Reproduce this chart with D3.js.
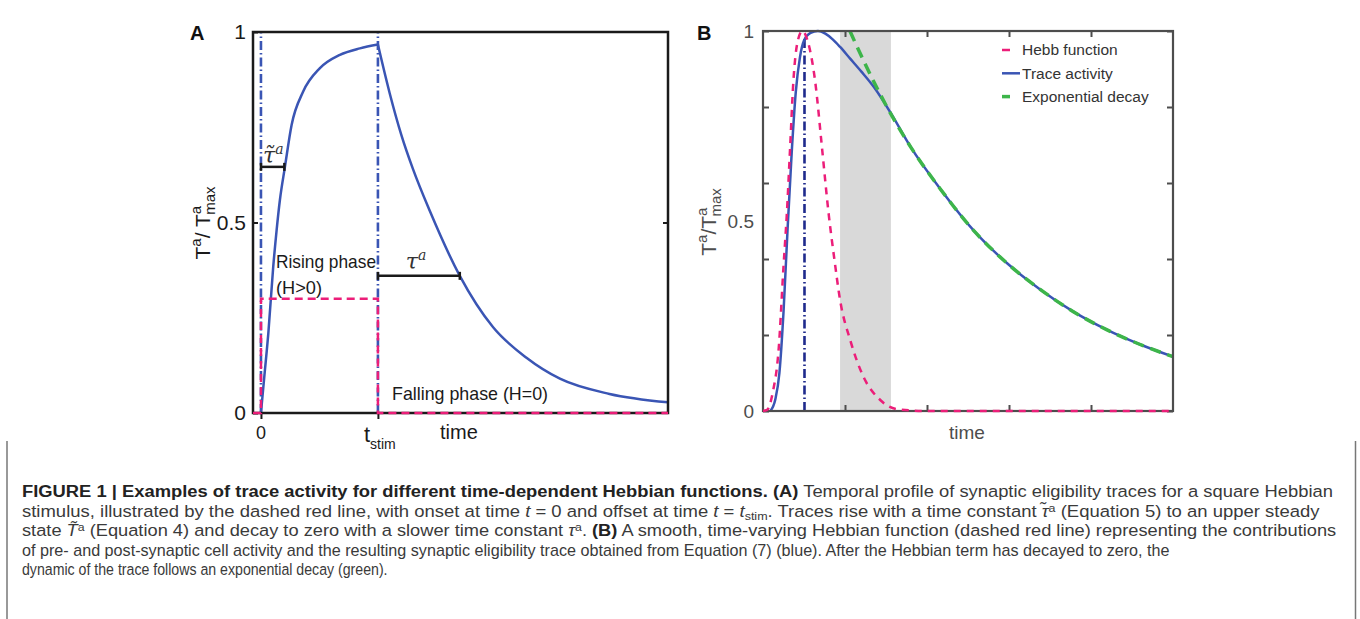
<!DOCTYPE html>
<html>
<head>
<meta charset="utf-8">
<script src="https://cdn.jsdelivr.net/npm/d3@7"></script>
<style>
  body { margin: 0; background: #fff; }
  svg { display: block; }
</style>
</head>
<body>
<svg id="fig" width="1360" height="619"></svg>
<script>
/* ----------  DATA  ---------- */
// panel A : square Hebbian stimulus, trace rises then decays (t_stim = 1)
const riseT = [0, 0.03, 0.063, 0.105, 0.134, 0.162, 0.205, 0.262, 0.36, 0.504, 0.675, 0.846, 1.0]
const riseV = [0, 0.1, 0.209, 0.384, 0.48, 0.559, 0.646, 0.756, 0.843, 0.905, 0.94, 0.957, 0.967]
const fallT = [1.0, 1.1, 1.2, 1.3, 1.444, 1.7, 1.985, 2.27, 2.556, 2.98, 3.48]
const fallV = [0.967, 0.84, 0.73, 0.64, 0.53, 0.36, 0.225, 0.145, 0.09, 0.05, 0.028]
const hebbAT = [-0.068, 0, 0, 1, 1, 3.48]
const hebbAV = [0, 0, 0.3, 0.3, 0, 0]
const markerStart = [0, 1]       // tilde-tau, tau
const markerEnd = [0.2, 1.7]
const markerLevel = [0.646, 0.36]
const stimLines = [0, 1]
const yTicksA = [0, 0.5, 1]

// panel B : smooth Hebbian function, trace and exponential fit
const hebbBT = [0, 0.05, 0.12, 0.19, 0.25, 0.29, 0.33, 0.37, 0.42, 0.48, 0.55, 0.637, 0.718, 0.8, 0.87, 0.94, 1.063, 1.225, 1.43, 1.63, 2.0, 3.0, 4.0, 5.0]
const hebbBV = [0, 0.003, 0.05, 0.16, 0.38, 0.516, 0.69, 0.866, 0.97, 1.0, 0.97, 0.866, 0.696, 0.52, 0.4, 0.292, 0.187, 0.09, 0.029, 0.005, 0, 0, 0, 0]
const traceT = [0.09, 0.15, 0.2, 0.25, 0.3, 0.35, 0.4, 0.45, 0.5, 0.58, 0.67, 0.76, 0.85, 0.94, 1.06, 1.2, 1.35, 1.55, 1.8, 2.16, 2.59, 2.97, 3.38, 3.78, 4.19, 4.6, 5.0]
const traceV = [0, 0.03, 0.1, 0.26, 0.48, 0.68, 0.84, 0.93, 0.975, 0.995, 1.0, 0.993, 0.978, 0.958, 0.928, 0.893, 0.853, 0.787, 0.695, 0.585, 0.47, 0.39, 0.32, 0.262, 0.214, 0.175, 0.143]
const expT = [1.06, 1.2, 1.35, 1.55, 1.8, 2.16, 2.59, 2.97, 3.38, 3.78, 4.19, 4.6, 5.0]
const expV = [1.0, 0.934, 0.867, 0.785, 0.695, 0.585, 0.47, 0.39, 0.32, 0.262, 0.214, 0.175, 0.143]
const shadeBand = [0.94, 1.56]
const peakLine = [0.506, 0.98]
const xTicksB = [1, 2, 3, 4]
const yTicksB = [0, 0.2, 0.4, 0.6, 0.8, 1]
const yLabelsB = [0, 0.5, 1]
const legendLabels = ['Hebb function', 'Trace activity', 'Exponential decay']

/* ----------  STYLE  ---------- */
const PINK = '#ec1e79'
const BLUE = '#3a55b4'
const NAVY = '#1f2a8c'
const GREEN = '#3db54a'
const SANS = '"Liberation Sans", Arial, sans-serif'
const ARIAL = '"Liberation Sans", Arial, sans-serif'
const SERIF = '"DejaVu Serif", "Liberation Serif", serif'

const svg = d3.select('#fig')
svg.append('rect').attr('width', 1360).attr('height', 619).attr('fill', '#fff')

const zip = (a, b) => a.map((v, i) => [v, b[i]])

/* ==========  PANEL A  ========== */
const xA = d3.scaleLinear().domain([-0.068, 3.48]).range([253, 668])
const yA = d3.scaleLinear().domain([0, 1]).range([413, 32])
const gA = svg.append('g')
const lineA = d3.line().x(d => xA(d[0])).y(d => yA(d[1]))

// blue dash-dot markers for onset / offset
gA.selectAll('.stim')
  .data(stimLines)
  .enter().append('line')
  .attr('x1', d => xA(d)).attr('x2', d => xA(d))
  .attr('y1', yA(0)).attr('y2', yA(1))
  .attr('stroke', BLUE)
  .attr('stroke-width', 2.6)
  .attr('stroke-dasharray', '9,3,1.5,3')

// trace
gA.append('path')
  .datum(zip(riseT, riseV))
  .attr('d', lineA.curve(d3.curveMonotoneX))
  .attr('fill', 'none').attr('stroke', BLUE).attr('stroke-width', 2.5)
gA.append('path')
  .datum(zip(fallT, fallV))
  .attr('d', lineA.curve(d3.curveMonotoneX))
  .attr('fill', 'none').attr('stroke', BLUE).attr('stroke-width', 2.5)

// frame + axis ticks
gA.append('rect')
  .attr('x', xA.range()[0]).attr('y', yA(1))
  .attr('width', xA.range()[1] - xA.range()[0]).attr('height', yA(0) - yA(1))
  .attr('fill', 'none').attr('stroke', '#1a1a1a').attr('stroke-width', 2.5)

gA.append('g')
  .attr('transform', `translate(${xA.range()[0]},0)`)
  .call(d3.axisLeft(yA).tickValues(yTicksA).tickSize(-5).tickPadding(7).tickFormat(d3.format('')))
  .call(g => g.select('.domain').remove())
  .call(g => g.selectAll('line').attr('stroke', '#1a1a1a').attr('stroke-width', 2))
  .call(g => g.selectAll('text').attr('fill', '#1a1a1a').style('font-family', SANS).style('font-size', '21px'))
gA.append('g')
  .attr('transform', `translate(${xA.range()[1]},0)`)
  .call(d3.axisRight(yA).tickValues([0.5]).tickSize(-5).tickFormat(''))
  .call(g => g.select('.domain').remove())
  .call(g => g.selectAll('line').attr('stroke', '#1a1a1a').attr('stroke-width', 2))
gA.append('g')
  .attr('transform', `translate(0,${yA(0)})`)
  .call(d3.axisBottom(xA).tickValues(stimLines).tickSize(6).tickFormat(''))
  .call(g => g.select('.domain').remove())
  .call(g => g.selectAll('line').attr('stroke', '#1a1a1a').attr('stroke-width', 2))

// square Hebbian stimulus
gA.append('path')
  .datum(zip(hebbAT, hebbAV))
  .attr('d', lineA.curve(d3.curveLinear))
  .attr('fill', 'none').attr('stroke', PINK).attr('stroke-width', 2.5)
  .attr('stroke-dasharray', '8,5')

// time constant markers
const mk = gA.selectAll('.mk')
  .data(markerStart.map((s, i) => ({ s, e: markerEnd[i], v: markerLevel[i] })))
  .enter().append('g')
mk.append('line')
  .attr('x1', d => xA(d.s)).attr('x2', d => xA(d.e))
  .attr('y1', d => yA(d.v)).attr('y2', d => yA(d.v))
  .attr('stroke', '#1a1a1a').attr('stroke-width', 2.5)
mk.each(function (d) {
  [d.s, d.e].forEach(t => d3.select(this).append('line')
    .attr('x1', xA(t)).attr('x2', xA(t))
    .attr('y1', yA(d.v) - 4).attr('y2', yA(d.v) + 4)
    .attr('stroke', '#1a1a1a').attr('stroke-width', 2.5))
})

const tauLabel = (x, y, tilde) => {
  const t = gA.append('text').attr('x', x).attr('y', y)
    .style('font-family', SERIF).style('font-style', 'italic').style('font-size', '22px')
    .attr('fill', '#333')
  t.append('tspan').text(tilde ? 'τ̃' : 'τ')
  t.append('tspan').attr('dy', -9).style('font-size', '14px').text('a')
}
tauLabel(xA(0) + 2, yA(markerLevel[0]) - 4, true)
tauLabel((xA(markerStart[1]) + xA(markerEnd[1])) / 2 - 13, yA(markerLevel[1]) - 7, false)

// phase labels
const txtA = (x, y, s) => gA.append('text').attr('x', x).attr('y', y)
  .style('font-family', SANS).style('font-size', '19px').attr('fill', '#1a1a1a').text(s)
txtA(276, 268, 'Rising phase').attr('textLength', 100).attr('lengthAdjust', 'spacingAndGlyphs')
txtA(276, 294, '(H>0)').attr('textLength', 46).attr('lengthAdjust', 'spacingAndGlyphs')
txtA(392, 400, 'Falling phase (H=0)').attr('textLength', 156).attr('lengthAdjust', 'spacingAndGlyphs')

// x tick labels
gA.append('text').attr('x', xA(0)).attr('y', 439).attr('text-anchor', 'middle')
  .style('font-family', SANS).style('font-size', '18px').attr('fill', '#1a1a1a').text('0')
const ts = gA.append('text').attr('x', xA(1) - 14).attr('y', 442)
  .style('font-family', SANS).style('font-size', '22px').attr('fill', '#1a1a1a')
ts.append('tspan').text('t')
ts.append('tspan').attr('dy', 7).style('font-size', '14px').text('stim')
txtA(440, 439, 'time').style('font-size', '20px')

// y label
const ylab = (g, x, y, gap, col) => {
  const t = g.append('text')
    .attr('transform', `translate(${x},${y}) rotate(-90)`)
    .attr('text-anchor', 'middle')
    .style('font-family', SANS).style('font-size', '21px').attr('fill', col)
  t.append('tspan').text('T')
  t.append('tspan').attr('dy', -9).style('font-size', '15px').text('a')
  t.append('tspan').attr('dy', 9).text(gap ? '/ T' : '/T')
  t.append('tspan').attr('dy', -9).style('font-size', '15px').text('a')
  t.append('tspan').attr('dx', -9).attr('dy', 14).style('font-size', '15px').text('max')
}
ylab(gA, 210, 223, true, '#1a1a1a')

gA.append('text').attr('x', 190).attr('y', 40)
  .style('font-family', ARIAL).style('font-weight', 'bold').style('font-size', '20px')
  .attr('fill', '#111').text('A')

/* ==========  PANEL B  ========== */
const xB = d3.scaleLinear().domain([0, 5]).range([763, 1173])
const yB = d3.scaleLinear().domain([0, 1]).range([411, 31])
const gB = svg.append('g')
const lineB = d3.line().x(d => xB(d[0])).y(d => yB(d[1])).curve(d3.curveMonotoneX)
const GREY = '#4d4d4d'

gB.append('rect')
  .attr('x', xB(shadeBand[0])).attr('y', yB(1))
  .attr('width', xB(shadeBand[1]) - xB(shadeBand[0])).attr('height', yB(0) - yB(1))
  .attr('fill', '#d9d9d9')

gB.append('line')
  .attr('x1', xB(peakLine[0])).attr('x2', xB(peakLine[0]))
  .attr('y1', yB(0)).attr('y2', yB(peakLine[1]))
  .attr('stroke', NAVY).attr('stroke-width', 2.6)
  .attr('stroke-dasharray', '9,3,1.5,3')

gB.append('path').datum(zip(traceT, traceV)).attr('d', lineB)
  .attr('fill', 'none').attr('stroke', BLUE).attr('stroke-width', 2.5)
gB.append('path').datum(zip(expT, expV)).attr('d', lineB)
  .attr('fill', 'none').attr('stroke', GREEN).attr('stroke-width', 3.5)
  .attr('stroke-dasharray', '11,7')

// frame and ticks
gB.append('rect')
  .attr('x', xB(0)).attr('y', yB(1))
  .attr('width', xB(5) - xB(0)).attr('height', yB(0) - yB(1))
  .attr('fill', 'none').attr('stroke', GREY).attr('stroke-width', 2.2)

const tickStyle = g => g.call(g => g.select('.domain').remove())
  .call(g => g.selectAll('line').attr('stroke', GREY).attr('stroke-width', 2))
gB.append('g').attr('transform', `translate(${xB(0)},0)`)
  .call(d3.axisLeft(yB).tickValues(yTicksB).tickSize(-6).tickFormat('')).call(tickStyle)
gB.append('g').attr('transform', `translate(${xB(5)},0)`)
  .call(d3.axisRight(yB).tickValues(yTicksB).tickSize(-6).tickFormat('')).call(tickStyle)
gB.append('g').attr('transform', `translate(0,${yB(0)})`)
  .call(d3.axisBottom(xB).tickValues(xTicksB).tickSize(-6).tickFormat('')).call(tickStyle)
gB.append('g').attr('transform', `translate(0,${yB(1)})`)
  .call(d3.axisTop(xB).tickValues(xTicksB).tickSize(-6).tickFormat('')).call(tickStyle)
gB.append('g').attr('transform', `translate(${xB(0)},0)`)
  .call(d3.axisLeft(yB).tickValues(yLabelsB).tickSize(0).tickPadding(9).tickFormat(d3.format('')))
  .call(g => g.select('.domain').remove())
  .call(g => g.selectAll('text').attr('fill', GREY).style('font-family', ARIAL).style('font-size', '19px'))

// Hebb function on top
gB.append('path').datum(zip(hebbBT, hebbBV)).attr('d', lineB)
  .attr('fill', 'none').attr('stroke', PINK).attr('stroke-width', 2.5)
  .attr('stroke-dasharray', '7,6')

// legend
const legCol = [PINK, BLUE, GREEN]
const legLen = [8, 18, 8]
const leg = gB.selectAll('.leg').data(legendLabels).enter().append('g')
  .attr('transform', (d, i) => `translate(1002,${50 + i * 23.3})`)
leg.append('line')
  .attr('x1', 0).attr('x2', (d, i) => legLen[i])
  .attr('stroke', (d, i) => legCol[i]).attr('stroke-width', (d, i) => i === 2 ? 3.5 : 2.5)
leg.append('text').attr('x', 20).attr('dy', '0.35em')
  .style('font-family', ARIAL).style('font-size', '15.5px').attr('fill', '#333')
  .text(d => d)

gB.append('text').attr('x', 967).attr('y', 439).attr('text-anchor', 'middle')
  .style('font-family', ARIAL).style('font-size', '19px').attr('fill', GREY).text('time')
ylab(gB, 716, 222, false, GREY)

gB.append('text').attr('x', 697).attr('y', 40)
  .style('font-family', ARIAL).style('font-weight', 'bold').style('font-size', '20px')
  .attr('fill', '#111').text('B')

/* ==========  CAPTION  ========== */
svg.append('line').attr('x1', 7).attr('x2', 7).attr('y1', 441).attr('y2', 619)
  .attr('stroke', '#777').attr('stroke-width', 1.5)
svg.append('line').attr('x1', 1355.5).attr('x2', 1355.5).attr('y1', 441).attr('y2', 619)
  .attr('stroke', '#777').attr('stroke-width', 1.5)

const caption = [
  [['b', 'FIGURE 1 | Examples of trace activity for different time-dependent Hebbian functions. (A)'],
   ['n', ' Temporal profile of synaptic eligibility traces for a square Hebbian']],
  [['n', 'stimulus, illustrated by the dashed red line, with onset at time '], ['i', 't'], ['n', ' = 0 and offset at time '],
   ['i', 't'], ['n', ' = '], ['i', 't'], ['sub', 'stim'], ['n', '. Traces rise with a time constant '], ['i', 'τ̃'],
   ['sup', 'a'], ['n', ' (Equation 5) to an upper steady']],
  [['n', 'state '], ['i', 'T̃'], ['sup', 'a'], ['n', ' (Equation 4) and decay to zero with a slower time constant '], ['i', 'τ'],
   ['sup', 'a'], ['n', '. '], ['b', '(B)'],
   ['n', ' A smooth, time-varying Hebbian function (dashed red line) representing the contributions']],
  [['n', 'of pre- and post-synaptic cell activity and the resulting synaptic eligibility trace obtained from Equation (7) (blue). After the Hebbian term has decayed to zero, the']],
  [['n', 'dynamic of the trace follows an exponential decay (green).']]
]
const lineWidths = [1312, 1298, 1315, 1148, 366]

// each line is squeezed horizontally to the measured width (condensed face)
caption.forEach((segs, li) => {
  const y = 497 + li * 19.6
  const t = svg.append('text').attr('x', 0).attr('y', 0)
    .style('font-family', SANS).style('font-size', '17px').attr('fill', '#3a3a3a')
  let shift = 0
  segs.forEach(([k, s]) => {
    const sp = t.append('tspan').text(s)
    let dy = 0
    if (k === 'sup') dy = -5
    if (k === 'sub') dy = 3
    sp.attr('dy', dy - shift)
    shift = dy
    if (k === 'b') sp.style('font-weight', 'bold').attr('fill', '#222')
    if (k === 'i') sp.style('font-style', 'italic')
    if (k === 'sup' || k === 'sub') sp.style('font-size', '11.5px')
  })
  const w = t.node().getComputedTextLength()
  t.attr('transform', `translate(22,${y}) scale(${lineWidths[li] / w},1)`)
})
</script>
</body>
</html>
